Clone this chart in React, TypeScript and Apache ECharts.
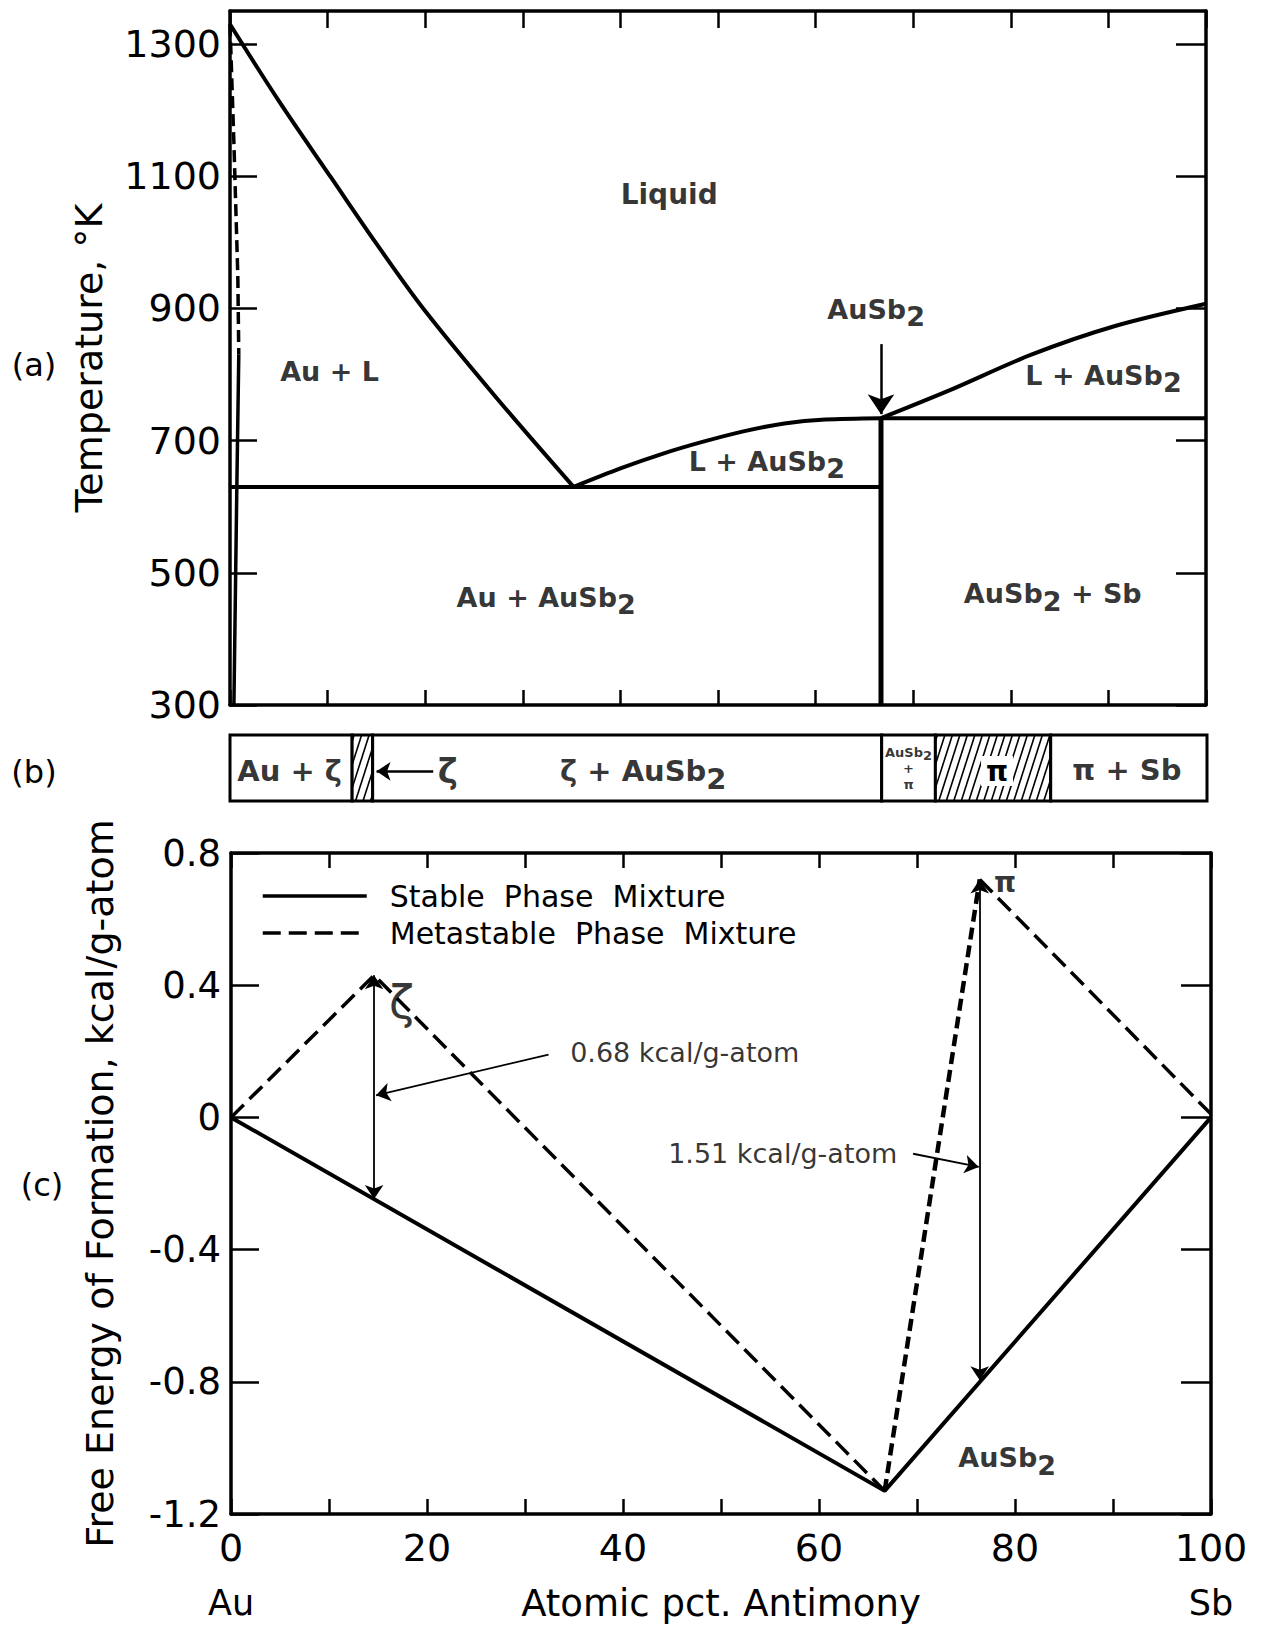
import React, { useEffect, useRef } from "react";
import * as echarts from "echarts";

const FONT = "DejaVu Sans";

// ---------- (a) Au–Sb phase diagram : [atomic pct. Sb, temperature °K] ----------
const auLiquidus = [[0, 1330], [5, 1214], [10.4, 1097], [15, 998], [20, 896], [27.4, 763], [35.2, 630]];
const ausb2Liquidus = [[35.2, 630], [40, 658], [44.3, 680], [48.4, 698], [52.6, 714], [56.8, 726], [61, 732], [66.7, 734]];
const sbLiquidus = [[66.7, 734], [73.7, 776], [82.1, 830], [90.6, 873], [100, 907]];
const auEutectic = [[0, 630], [66.7, 630]];
const sbEutectic = [[66.7, 734], [100, 734]];
const ausb2Compound = [[66.7, 300], [66.7, 734]];
const auSolidusMeta = [[0, 1330], [0.4, 1150], [0.8, 950], [0.9, 830]];
const auSolidus = [[0.9, 830], [0.7, 630], [0.4, 300]];
const ausb2Arrow = [[66.7, 846], [66.7, 740]];
const phaseLabels: [string, number, number][] = [
  ["Liquid", 45, 1072],
  ["Au + L", 10.2, 805],
  ["AuSb_2", 66.2, 899],
  ["L + AuSb_2", 89.5, 799],
  ["L + AuSb_2", 55.0, 669],
  ["Au + AuSb_2", 32.4, 463],
  ["AuSb_2 + Sb", 84.3, 468],
];
const tempTicks = [300, 500, 700, 900, 1100, 1300];
const compTicks = [0, 10, 20, 30, 40, 50, 60, 70, 80, 90, 100];
const compLabels = [0, 20, 40, 60, 80, 100];

// ---------- (b) phases present : [from, to, hatched] ----------
const bandSegments = [
  [0, 12.5, 0],
  [12.5, 14.6, 1],
  [14.6, 66.7, 0],
  [66.7, 72.2, 0],
  [72.2, 84, 1],
  [84, 100, 0],
];
// names written inside the hatched single-phase fields
const bandHatchedNames = ["", "", "", "", "π", ""];
const bandLabels: [string, number, number][] = [
  ["Au + ζ", 6.1, 0.45],
  ["ζ", 22.3, 0.45],
  ["ζ + AuSb_2", 42.3, 0.45],
  ["AuSb_2\n+\nπ", 69.45, 0.5],
  ["π + Sb", 91.8, 0.47],
];
const zetaPointer = [[20.8, 0.45], [15.0, 0.45]];

// ---------- (c) free energy of formation : [atomic pct. Sb, kcal/g-atom] ----------
const stableMixture = [[0, 0], [66.7, -1.13], [100, 0]];
const metaZeta = [[0, 0], [14.6, 0.43], [66.7, -1.13]];
const metaPiRise = [[66.7, -1.13], [76.4, 0.72]];
const metaPiFall = [[76.4, 0.72], [100, 0.01]];
const zetaGap = [[14.6, 0.43], [14.6, -0.247]];
const piGap = [[76.4, 0.72], [76.4, -0.795]];
const zetaLeader = [[32.4, 0.19], [14.8, 0.067]];
const piLeader = [[69.6, -0.11], [76.3, -0.15]];
const energyLabels: [string, number, number][] = [
  ["ζ", 17.4, 0.35],
  ["π", 79.0, 0.71],
  ["AuSb_2", 79.2, -1.03],
  ["0.68 kcal/g-atom", 46.3, 0.197],
  ["1.51 kcal/g-atom", 56.3, -0.11],
];
const energyTicks = [-1.2, -0.8, -0.4, 0, 0.4, 0.8];

// ---------- helpers ----------
const toRich = (t: string) =>
  ("{m|" + t.replace(/_(\d)/g, "}{s|$1}{m|") + "}").replace(/\{m\|\}/g, "");

const richFor = (size: number, weight: string = "normal", lh?: number) => ({
  m: { fontSize: size, fontFamily: FONT, color: "#000", fontWeight: weight, lineHeight: lh },
  s: {
    fontSize: size,
    fontFamily: FONT,
    color: "#000",
    fontWeight: weight,
    padding: [Math.round(size * 0.55), 0, 0, 0],
  },
});

const sizeA = (t: string) => (t === "Liquid" ? 28 : 27);
const sizeB = (t: string) => (t.indexOf("\n") >= 0 ? 13 : t === "ζ" ? 34 : 29);
const sizeC = (t: string) => (t === "ζ" ? 46 : t === "π" ? 28 : 27);

const labelSeries = (
  xi: number,
  yi: number,
  items: [string, number, number][],
  sizeOf: (t: string) => number,
  weightOf: (t: string) => string,
  markLine?: any
) => ({
  type: "scatter",
  xAxisIndex: xi,
  yAxisIndex: yi,
  symbolSize: 1,
  itemStyle: { color: "rgba(0,0,0,0)" },
  silent: true,
  z: 6,
  label: { show: true, position: "inside", color: "#000", fontFamily: FONT },
  data: items.map(([t, x, y]) => {
    const sz = sizeOf(t);
    const multi = t.indexOf("\n") >= 0;
    const rich = t.indexOf("_") >= 0;
    return {
      name: t,
      value: [x, y],
      label: {
        show: true,
        position: "inside",
        color: "#000",
        fontSize: sz,
        fontFamily: FONT,
        fontWeight: weightOf(t),
        formatter: rich ? toRich(t) : t,
        rich: richFor(sz, weightOf(t), multi ? sz + 3 : undefined),
        lineHeight: multi ? sz + 3 : undefined,
      },
    };
  }),
  ...(markLine ? { markLine } : {}),
});

const lineS = (
  name: string,
  data: number[][],
  xi: number,
  yi: number,
  width: number,
  type: any = "solid",
  smooth: any = false,
  markLine?: any
) => ({
  type: "line",
  name,
  data,
  xAxisIndex: xi,
  yAxisIndex: yi,
  symbol: "none",
  showSymbol: false,
  silent: true,
  smooth,
  z: 3,
  color: "#000",
  itemStyle: { color: "#000" },
  lineStyle: { color: "#000", width, type, cap: "butt" },
  emphasis: { disabled: true },
  ...(markLine ? { markLine } : {}),
});

const arrowLines = (pairs: number[][][], symbols: string[][], width: number, size: number) => ({
  silent: true,
  animation: false,
  symbolSize: size,
  label: { show: false },
  emphasis: { disabled: true },
  lineStyle: { color: "#000", width, type: "solid" },
  data: pairs.map((p, i) => [
    { coord: p[0], symbol: symbols[i][0], symbolSize: size },
    { coord: p[1], symbol: symbols[i][1], symbolSize: size },
  ]),
});

const frameLine = { show: true, onZero: false, lineStyle: { color: "#000", width: 3.5 } };
const tickStyle = (len: number, values: number[]) => ({
  show: true,
  inside: true,
  length: len,
  customValues: values,
  lineStyle: { color: "#000", width: 2.5 },
});

export default function App() {
  const ref = useRef<HTMLDivElement>(null);

  useEffect(() => {
    document.body.style.margin = "0";
    if (!ref.current) return;
    const chart = echarts.init(ref.current, null, { renderer: "svg" });

    const option: any = {
      animation: false,
      backgroundColor: "#fff",
      color: ["#000"],
      textStyle: { fontFamily: FONT, color: "#000" },
      grid: [
        { left: 230, top: 11, width: 976, height: 694, containLabel: false, outerBoundsMode: "none" },
        { left: 230, top: 735, width: 977, height: 66, containLabel: false, outerBoundsMode: "none" },
        { left: 231, top: 853, width: 980, height: 661, containLabel: false, outerBoundsMode: "none" },
      ],
      xAxis: [
        {
          gridIndex: 0, type: "value", min: 0, max: 100, position: "bottom",
          axisLine: frameLine, axisTick: tickStyle(15, compTicks),
          axisLabel: { show: false }, splitLine: { show: false },
        },
        {
          gridIndex: 0, type: "value", min: 0, max: 100, position: "top",
          axisLine: frameLine, axisTick: tickStyle(17, compTicks),
          axisLabel: { show: false }, splitLine: { show: false },
        },
        { gridIndex: 1, type: "value", min: 0, max: 100, show: false },
        {
          gridIndex: 2, type: "value", min: 0, max: 100, position: "bottom",
          axisLine: frameLine, axisTick: tickStyle(15, compTicks), splitLine: { show: false },
          axisLabel: {
            show: true,
            customValues: compLabels,
            margin: 14,
            verticalAlign: "top",
            formatter: (v: number) =>
              v === 0 ? "{n|0}\n{e|Au}" : v === 100 ? "{n|100}\n{e|Sb}" : "{n|" + v + "}",
            rich: {
              n: { fontSize: 38, lineHeight: 40, fontFamily: FONT, color: "#000" },
              e: { fontSize: 35, lineHeight: 36, fontFamily: FONT, color: "#000", padding: [34, 0, 0, 0] },
            },
          },
          name: "Atomic pct. Antimony",
          nameLocation: "middle",
          nameGap: 71,
          nameMoveOverlap: false,
          nameTextStyle: { fontSize: 37, fontFamily: FONT, color: "#000", verticalAlign: "top" },
        },
        {
          gridIndex: 2, type: "value", min: 0, max: 100, position: "top",
          axisLine: frameLine, axisTick: tickStyle(15, compTicks),
          axisLabel: { show: false }, splitLine: { show: false },
        },
      ],
      yAxis: [
        {
          gridIndex: 0, type: "value", min: 300, max: 1350, position: "left",
          axisLine: frameLine, axisTick: tickStyle(27, tempTicks), splitLine: { show: false },
          axisLabel: {
            show: true, customValues: tempTicks, margin: 9,
            fontSize: 38, fontFamily: FONT, color: "#000",
            formatter: (v: number) => String(Math.round(v)),
          },
          name: "Temperature, °K",
          nameLocation: "middle",
          nameGap: 122,
          nameMoveOverlap: false,
          nameTextStyle: { fontSize: 38, fontFamily: FONT, color: "#000" },
        },
        {
          gridIndex: 0, type: "value", min: 300, max: 1350, position: "right",
          axisLine: frameLine, axisTick: tickStyle(30, tempTicks),
          axisLabel: { show: false }, splitLine: { show: false },
        },
        { gridIndex: 1, type: "value", min: 0, max: 1, show: false },
        {
          gridIndex: 2, type: "value", min: -1.2, max: 0.8, position: "left",
          axisLine: frameLine, axisTick: tickStyle(28, energyTicks), splitLine: { show: false },
          axisLabel: {
            show: true, customValues: energyTicks, margin: 10,
            fontSize: 37, fontFamily: FONT, color: "#000",
            formatter: (v: number) =>
              Math.abs(v) < 1e-9 ? "0" : (v < 0 ? "-" : "") + Math.abs(v).toFixed(1),
          },
          name: "Free Energy of Formation, kcal/g-atom",
          nameLocation: "middle",
          nameGap: 112,
          nameMoveOverlap: false,
          nameTextStyle: { fontSize: 38, fontFamily: FONT, color: "#000" },
        },
        {
          gridIndex: 2, type: "value", min: -1.2, max: 0.8, position: "right",
          axisLine: frameLine, axisTick: tickStyle(30, energyTicks),
          axisLabel: { show: false }, splitLine: { show: false },
        },
      ],
      legend: {
        show: true,
        left: 256,
        top: 876,
        orient: "vertical",
        itemWidth: 104,
        itemHeight: 14,
        itemGap: 7,
        selectedMode: false,
        itemStyle: { opacity: 0 },
        lineStyle: { width: 3.5 },
        textStyle: { fontSize: 30, fontFamily: FONT, color: "#000", padding: [0, 0, 0, 18] },
        formatter: (n: string) => n.split(" ").join("  "),
        data: ["Stable Phase Mixture", "Metastable Phase Mixture"],
      },
      graphic: [
        { type: "text", x: 34, y: 365, style: { text: "(a)", fontSize: 32, fontFamily: FONT, fill: "#000", align: "center", verticalAlign: "middle" } },
        { type: "text", x: 34, y: 772, style: { text: "(b)", fontSize: 32, fontFamily: FONT, fill: "#000", align: "center", verticalAlign: "middle" } },
        { type: "text", x: 42, y: 1185, style: { text: "(c)", fontSize: 32, fontFamily: FONT, fill: "#000", align: "center", verticalAlign: "middle" } },
      ],
      series: [
        // (a)
        lineS("Au liquidus", auLiquidus, 0, 0, 4, "solid", 0.35),
        lineS("AuSb2 liquidus", ausb2Liquidus, 0, 0, 4, "solid", 0.3),
        lineS("Sb liquidus", sbLiquidus, 0, 0, 4, "solid", 0.3),
        lineS("Au–AuSb2 eutectic", auEutectic, 0, 0, 4),
        lineS("AuSb2–Sb eutectic", sbEutectic, 0, 0, 4),
        lineS("Au metastable solidus", auSolidusMeta, 0, 0, 3.5, [12, 6]),
        lineS("Au solidus", auSolidus, 0, 0, 3.5),
        lineS(
          "AuSb2",
          ausb2Compound,
          0,
          0,
          5,
          "solid",
          false,
          arrowLines([ausb2Arrow], [["none", "arrow"]], 2.5, 20)
        ),
        labelSeries(0, 0, phaseLabels, sizeA, () => "bold"),
        // (b)
        {
          type: "custom",
          name: "phase bands",
          xAxisIndex: 2,
          yAxisIndex: 2,
          silent: true,
          z: 2,
          data: bandSegments,
          renderItem: (params: any, api: any) => {
            const x0 = api.value(0);
            const x1 = api.value(1);
            const hatched = api.value(2);
            const tl = api.coord([x0, 1]);
            const br = api.coord([x1, 0]);
            const w = br[0] - tl[0];
            const h = br[1] - tl[1];
            const name = bandHatchedNames[params.dataIndex] || "";
            const children: any[] = [
              { type: "rect", shape: { x: tl[0], y: tl[1], width: w, height: h }, style: { fill: "#fff" } },
            ];
            if (hatched) {
              const run = h * 0.32;
              for (let s = tl[0] - run + 2; s < br[0]; s += 7.5) {
                const tA = Math.max(0, (tl[0] - s) / run);
                const tB = Math.min(1, (br[0] - s) / run);
                if (tB <= tA) continue;
                children.push({
                  type: "line",
                  shape: { x1: s + tA * run, y1: br[1] - tA * h, x2: s + tB * run, y2: br[1] - tB * h },
                  style: { stroke: "#000", lineWidth: 1.6 },
                });
              }
            }
            if (name) {
              const cx = tl[0] + w / 2 + 4;
              const cy = tl[1] + h / 2 + 3;
              children.push({
                type: "rect",
                shape: { x: cx - 16, y: cy - 15, width: 32, height: 30 },
                style: { fill: "#fff" },
              });
              children.push({
                type: "text",
                x: cx,
                y: cy,
                style: {
                  text: name,
                  fill: "#000",
                  fontSize: 28,
                  fontWeight: "bold",
                  fontFamily: FONT,
                  align: "center",
                  verticalAlign: "middle",
                },
              });
            }
            children.push({
              type: "rect",
              shape: { x: tl[0], y: tl[1], width: w, height: h },
              style: { fill: "none", stroke: "#000", lineWidth: 3 },
            });
            return { type: "group", children };
          },
        },
        labelSeries(
          2,
          2,
          bandLabels,
          sizeB,
          () => "bold",
          arrowLines([zetaPointer], [["none", "arrow"]], 2.5, 14)
        ),
        // (c)
        lineS("Stable Phase Mixture", stableMixture, 3, 3, 4),
        lineS("Metastable Phase Mixture", metaZeta, 3, 3, 3.5, [18, 8]),
        lineS("Metastable Phase Mixture", metaPiRise, 3, 3, 4.5, [12, 6]),
        lineS("Metastable Phase Mixture", metaPiFall, 3, 3, 3.5, [18, 8]),
        labelSeries(
          3,
          3,
          energyLabels,
          sizeC,
          (t: string) => (t === "π" || t === "AuSb_2" ? "bold" : "normal"),
          arrowLines(
            [zetaGap, piGap, zetaLeader, piLeader],
            [["arrow", "arrow"], ["arrow", "arrow"], ["none", "arrow"], ["none", "arrow"]],
            1.8,
            14
          )
        ),
      ],
    };

    chart.setOption(option);
    return () => {
      chart.dispose();
    };
  }, []);

  return <div ref={ref} style={{ width: 1266, height: 1626 }} />;
}
